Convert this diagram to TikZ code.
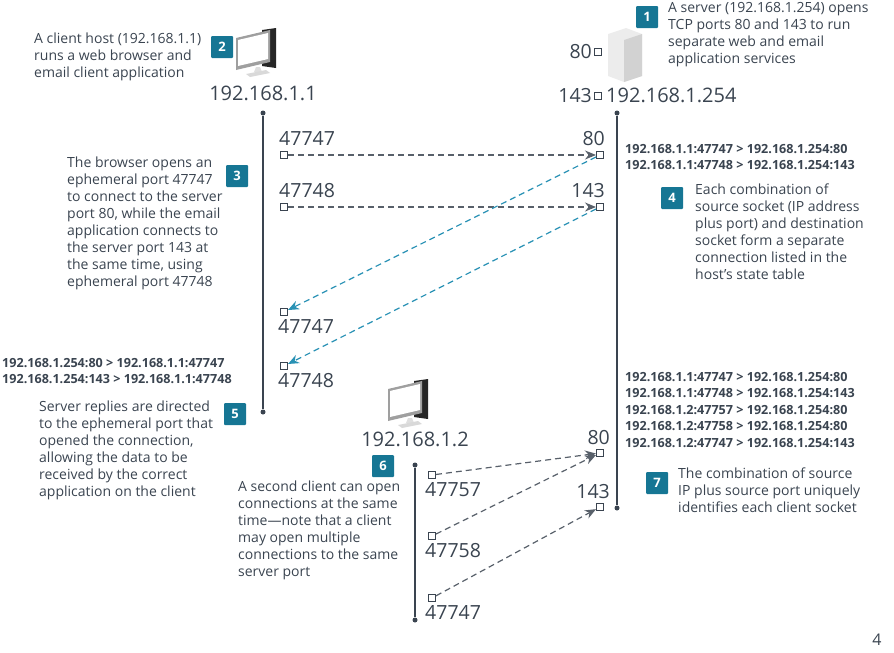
\documentclass[tikz,border=0pt]{standalone}
\usepackage{fontspec}
\setmainfont{Open Sans}
\usetikzlibrary{arrows.meta,positioning}
\definecolor{ink}{RGB}{58,68,80}
\definecolor{badge}{RGB}{22,118,148}
\definecolor{ret}{RGB}{40,145,180}
\tikzset{
  note/.style={align=left,text=ink,font=\fontsize{14}{17}\selectfont,inner sep=0pt},
  tbl/.style={align=left,text=ink,font=\fontsize{12.6}{16.5}\selectfont\bfseries,inner sep=0pt},
  num/.style={fill=badge,text=white,font=\fontsize{13}{13}\selectfont\bfseries,minimum size=22pt,inner sep=0pt,rounded corners=1pt},
  port/.style={draw=ink,line width=1pt,minimum size=7pt,inner sep=0pt},
  plab/.style={text=ink,font=\fontsize{19.5}{19.5}\selectfont,inner sep=1pt},
  ip/.style={text=ink,font=\fontsize{20}{20}\selectfont,inner sep=1pt},
  life/.style={draw=ink,line width=1.3pt},
  dot/.style={circle,fill=ink,inner sep=0pt,minimum size=5pt},
  req/.style={draw=ink!85,line width=1.2pt,dash pattern=on 6pt off 4pt,-{Stealth[length=11pt,width=9pt]}},
  rep/.style={req,draw=ret,color=ret},
}
% simple desktop icon
\newcommand\pcicon[1]{%
  \begin{scope}[shift={#1}]
    \fill[gray!25] (-4,18) -- (4,18) -- (2,13) -- (-2,13) -- cycle;
    \fill[gray!30] (-12,20) -- (8,16) -- (12,19) -- (-8,23) -- cycle;
    \fill[black!85] (4,-24) -- (18,-26) -- (18,14) -- (4,12) -- cycle;
    \fill[gray!75] (-22,-16) -- (12,-24) -- (12,8) -- (-22,16) -- cycle;
    \fill[white] (-20,-14) -- (10,-21) -- (10,5) -- (-20,12) -- cycle;
  \end{scope}}
\begin{document}
\begin{tikzpicture}[x=1pt,y=-1pt]
  \useasboundingbox (0,0) rectangle (894,653);
  % lifelines
  \node[dot] (c1top) at (263,113) {};
  \node[dot] (c1bot) at (263,412) {};
  \node[dot] (sttop) at (617,113) {};
  \node[dot] (stbot) at (617,508) {};
  \node[dot] (c2top) at (415,465) {};
  \node[dot] (c2bot) at (415,620) {};
  \draw[life] (c1top) -- (c1bot);
  \draw[life] (sttop) -- (stbot);
  \draw[life] (c2top) -- (c2bot);

  % hosts
  \pcicon{(258,54)}
  \node[ip] (ipa) at (263,93) {192.168.1.1};
  \pcicon{(410,405)}
  \node[ip] (ipc) at (415,439) {192.168.1.2};
  \fill[gray!15] (608,34) -- (626,28) -- (642,34) -- (642,76) -- (624,82) -- (608,76) -- cycle;
  \fill[gray!35] (624,40) -- (642,34) -- (642,76) -- (624,82) -- cycle;
  \node[port] (s80) at (598,52) {};
  \node[plab,left=1pt of s80] {80};
  \node[port] (s143) at (598,96) {};
  \node[plab,left=1pt of s143] {143};
  \node[ip,anchor=west] (ipb) at (605,95) {192.168.1.254};

  % first client ports
  \node[port] (a1) at (284,155) {};
  \node[plab,anchor=south west] at (278,147) {47747};
  \node[port] (a2) at (284,207) {};
  \node[plab,anchor=south west] at (278,199) {47748};
  \node[port] (b1) at (600,155) {};
  \node[plab,anchor=south east] at (606,147) {80};
  \node[port] (b2) at (600,207) {};
  \node[plab,anchor=south east] at (606,199) {143};
  \node[port] (r1) at (284,312) {};
  \node[plab,anchor=north west] at (277,318) {47747};
  \node[port] (r2) at (284,366) {};
  \node[plab,anchor=north west] at (277,372) {47748};
  \draw[req] (a1) -- (b1);
  \draw[req] (a2) -- (b2);
  \draw[rep] (b1) -- (r1);
  \draw[rep] (b2) -- (r2);

  % second client ports
  \node[port] (d1) at (432,475) {};
  \node[plab,anchor=north west] at (424,481) {47757};
  \node[port] (d2) at (432,536) {};
  \node[plab,anchor=north west] at (424,542) {47758};
  \node[port] (d3) at (432,598) {};
  \node[plab,anchor=north west] at (424,604) {47747};
  \node[port] (e1) at (600,453) {};
  \node[plab,anchor=south east] at (611,446) {80};
  \node[port] (e2) at (600,507) {};
  \node[plab,anchor=south east] at (611,500) {143};
  \draw[req] (d1) -- (e1);
  \draw[req] (d2) -- (e1);
  \draw[req] (d3) -- (e2);

  % badges and notes
  \node[num] (n1) at (647,17) {1};
  \node[note,anchor=north west] at (668,2) {A server (192.168.1.254) opens\\TCP ports 80 and 143 to run\\separate web and email\\application services};
  \node[num] (n2) at (222,47) {2};
  \node[note,anchor=north west] at (34,33) {A client host (192.168.1.1)\\runs a web browser and\\email client application};
  \node[num] (n3) at (237,176) {3};
  \node[note,anchor=north west] at (67,157) {The browser opens an\\ephemeral port 47747\\to connect to the server\\port 80, while the email\\application connects to\\the server port 143 at\\the same time, using\\ephemeral port 47748};
  \node[num] (n4) at (672,198) {4};
  \node[note,anchor=north west] at (695,184) {Each combination of\\source socket (IP address\\plus port) and destination\\socket form a separate\\connection listed in the\\host’s state table};
  \node[num] (n5) at (235,414) {5};
  \node[note,anchor=north west] at (39,401) {Server replies are directed\\to the ephemeral port that\\opened the connection,\\allowing the data to be\\received by the correct\\application on the client};
  \node[num] (n6) at (383,466) {6};
  \node[note,anchor=north west] at (238,481) {A second client can open\\connections at the same\\time—note that a client\\may open multiple\\connections to the same\\server port};
  \node[num] (n7) at (657,483) {7};
  \node[note,anchor=north west] at (678,468) {The combination of source\\IP plus source port uniquely\\identifies each client socket};

  % state tables
  \node[tbl,anchor=north west] at (625,144) {192.168.1.1:47747 > 192.168.1.254:80\\192.168.1.1:47748 > 192.168.1.254:143};
  \node[tbl,anchor=north west] at (2,358) {192.168.1.254:80 > 192.168.1.1:47747\\192.168.1.254:143 > 192.168.1.1:47748};
  \node[tbl,anchor=north west] at (625,372) {192.168.1.1:47747 > 192.168.1.254:80\\192.168.1.1:47748 > 192.168.1.254:143\\192.168.1.2:47757 > 192.168.1.254:80\\192.168.1.2:47758 > 192.168.1.254:80\\192.168.1.2:47747 > 192.168.1.254:143};
  \node[text=ink,font=\fontsize{16}{16}\selectfont] (pg) at (877,640) {4};
\end{tikzpicture}
\end{document}
